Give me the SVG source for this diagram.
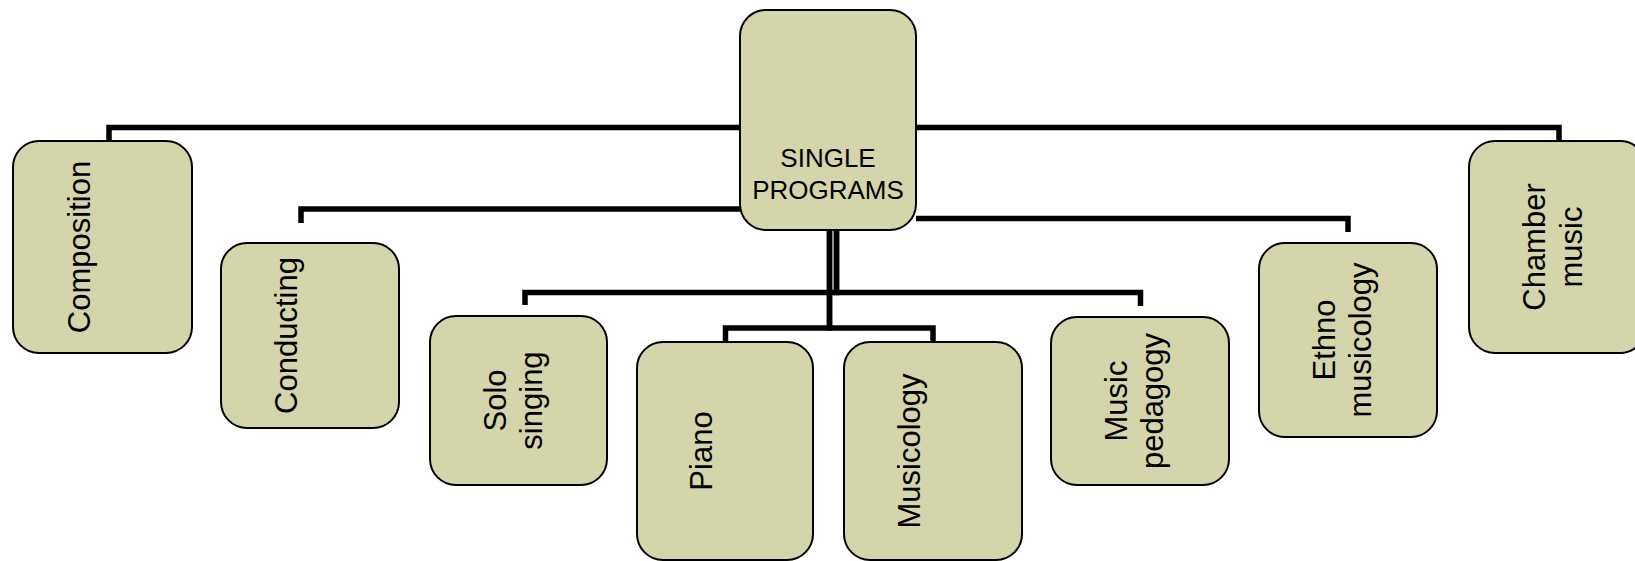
<svg xmlns="http://www.w3.org/2000/svg" width="1635" height="561" viewBox="0 0 1635 561">
<style>
  .box { fill: #D5D5AB; stroke: #000; stroke-width: 2; }
  .conn { fill: none; stroke: #000; stroke-width: 5.5; stroke-linejoin: miter; stroke-linecap: butt; }
  .lbl { font-family: "Liberation Sans", Arial, sans-serif; font-size: 31px; fill: #000; text-anchor: middle; }
  .root { font-family: "Liberation Sans", Arial, sans-serif; font-size: 26px; fill: #000; text-anchor: middle; }
</style>
<rect width="1635" height="561" fill="#fff"/>
<g id="connectors">
  <path class="conn" d="M740,127.5 H109 V141"/>
  <path class="conn" d="M916,127.5 H1559 V141"/>
  <path class="conn" d="M740,209 H301 V223"/>
  <path class="conn" d="M916,218.5 H1348 V232"/>
  <path class="conn" d="M836.5,230 V292.5 H525 V305"/>
  <path class="conn" d="M836.5,230 V292.5 H1140.5 V306"/>
  <path class="conn" d="M829.5,230 V328 H725.5 V342"/>
  <path class="conn" d="M829.5,230 V328 H933 V342"/>
</g>
<g id="root">
  <rect class="box" x="740" y="10" width="176" height="220" rx="26" ry="26"/>
  <text class="root" x="828" y="167">SINGLE</text>
  <text class="root" x="828" y="199">PROGRAMS</text>
</g>
<g id="composition">
  <rect class="box" x="13" y="141" width="179" height="212" rx="26" ry="26"/>
  <text class="lbl" transform="translate(102.5,247) rotate(-90)" x="0" y="-13">Composition</text>
</g>
<g id="conducting">
  <rect class="box" x="221" y="243" width="178" height="185" rx="26" ry="26"/>
  <text class="lbl" transform="translate(310,335.5) rotate(-90)" x="0" y="-13">Conducting</text>
</g>
<g id="solo-singing">
  <rect class="box" x="430" y="316" width="177" height="169" rx="26" ry="26"/>
  <text class="lbl" transform="translate(518.5,400.5) rotate(-90)"><tspan x="0" y="-13">Solo</tspan><tspan x="0" y="23">singing</tspan></text>
</g>
<g id="piano">
  <rect class="box" x="637" y="342" width="176" height="218" rx="26" ry="26"/>
  <text class="lbl" transform="translate(725,451) rotate(-90)" x="0" y="-13">Piano</text>
</g>
<g id="musicology">
  <rect class="box" x="844" y="342" width="178" height="218" rx="26" ry="26"/>
  <text class="lbl" transform="translate(933,451) rotate(-90)" x="0" y="-13">Musicology</text>
</g>
<g id="music-pedagogy">
  <rect class="box" x="1051" y="317" width="178" height="168" rx="26" ry="26"/>
  <text class="lbl" transform="translate(1140,401) rotate(-90)"><tspan x="0" y="-13">Music</tspan><tspan x="0" y="23">pedagogy</tspan></text>
</g>
<g id="ethno-musicology">
  <rect class="box" x="1259" y="243" width="178" height="194" rx="26" ry="26"/>
  <text class="lbl" transform="translate(1348,340) rotate(-90)"><tspan x="0" y="-13">Ethno</tspan><tspan x="0" y="23">musicology</tspan></text>
</g>
<g id="chamber-music">
  <rect class="box" x="1469" y="141" width="177" height="212" rx="26" ry="26"/>
  <text class="lbl" transform="translate(1557.5,247) rotate(-90)"><tspan x="0" y="-13">Chamber</tspan><tspan x="0" y="24">music</tspan></text>
</g>
</svg>
